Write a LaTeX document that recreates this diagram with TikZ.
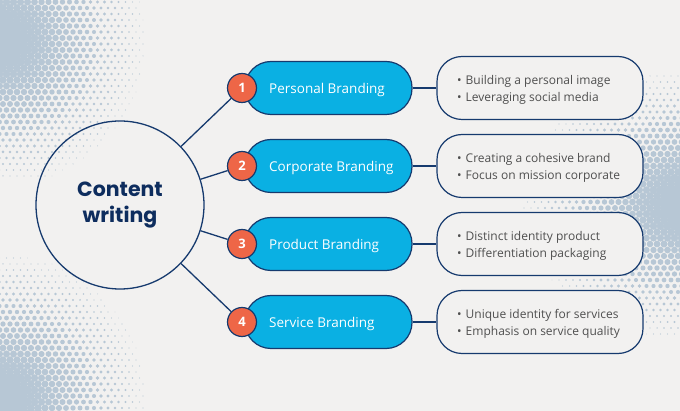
\documentclass[tikz,border=0pt]{standalone}
\usepackage{fontspec}
\setmainfont{Open Sans}
\newfontfamily\titlefont{Poppins}
\definecolor{bgc}{HTML}{F2F1F0}
\definecolor{navy}{HTML}{163A6E}
\definecolor{titlec}{HTML}{0E2D5E}
\definecolor{pillc}{HTML}{0AB0E3}
\definecolor{orangec}{HTML}{EE6647}
\definecolor{dotc}{HTML}{B7C7D5}
\definecolor{textc}{HTML}{4F4F4F}
\newcommand\dotfield[8]{%
  \pgfmathtruncatemacro\nx{(#2-#1)/7}%
  \pgfmathtruncatemacro\ny{(#4-#3)/6}%
  \foreach \j in {0,...,\ny}{%
    \foreach \i in {0,...,\nx}{%
      \pgfmathsetmacro\px{#1+7*\i+3.5*mod(\j,2)}%
      \pgfmathsetmacro\py{#3+6*\j}%
      \pgfmathsetmacro\dd{veclen(\px-#5,(\py-#6)*#8)}%
      \pgfmathsetmacro\rr{5*(1-\dd/#7)}%
      \pgfmathparse{\rr>0.45?1:0}%
      \ifnum\pgfmathresult=1 \fill[dotc] (\px,\py) circle[radius=\rr pt];\fi
    }}}
\tikzset{
  hub/.style={circle,draw=navy,line width=1.3pt,minimum size=168pt,inner sep=0pt,
    font=\titlefont\bfseries\fontsize{20.5}{26}\selectfont,text=titlec,align=center},
  pill/.style={rectangle,rounded corners=26pt,fill=pillc,draw=navy,line width=1.2pt,
    minimum width=167pt,minimum height=53pt},
  pilltext/.style={anchor=west,text=white,font=\fontsize{13.5}{16}\selectfont,inner sep=0pt},
  num/.style={circle,fill=orangec,draw=navy,line width=1.2pt,minimum size=29pt,inner sep=0pt,
    text=white,font=\bfseries\fontsize{13}{15}\selectfont},
  box/.style={rectangle,rounded corners=25pt,fill=bgc,draw=navy,line width=1.2pt,
    minimum width=206pt,minimum height=63pt},
  boxtext/.style={anchor=west,text=textc,align=left,inner sep=0pt,
    font=\fontsize{12}{17}\selectfont},
  link/.style={draw=navy,line width=1.3pt}
}
\begin{document}
\begin{tikzpicture}[x=1pt,y=-1pt]
\fill[bgc] (0,0) rectangle (680,411);
\useasboundingbox (0,0) rectangle (680,411);
\begin{scope}
\clip (0,0) rectangle (680,411);
\dotfield{-4}{160}{-4}{180}{0}{40}{160}{1}
\dotfield{-4}{160}{240}{415}{0}{400}{160}{1}
\dotfield{510}{684}{40}{360}{690}{205}{185}{1.25}
\end{scope}
\node[hub] (c) at (120,205) {Content\\writing};
\foreach \k/\yy/\lab/\la/\lb in {
  1/88/Personal Branding/Building a personal image/Leveraging social media,
  2/166/Corporate Branding/Creating a cohesive brand/Focus on mission corporate,
  3/244/Product Branding/Distinct identity product/Differentiation packaging,
  4/322/Service Branding/Unique identity for services/Emphasis on service quality}{
  \node[pill] (p\k) at (328.5,\yy) {};
  \node[pilltext] (t\k) at (269,\yy+1.5) {\lab};
  \node[num] (n\k) at (242,\yy) {\k};
  \draw[link] (c) -- (n\k);
  \node[box] (b\k) at (540,\yy) {};
  \draw[link] (p\k.east) -- (b\k.west);
  \node[boxtext] (l\k) at (457,\yy+1.5) {\textbullet\hspace{4pt}\la\\\textbullet\hspace{4pt}\lb};
}
\end{tikzpicture}
\end{document}
